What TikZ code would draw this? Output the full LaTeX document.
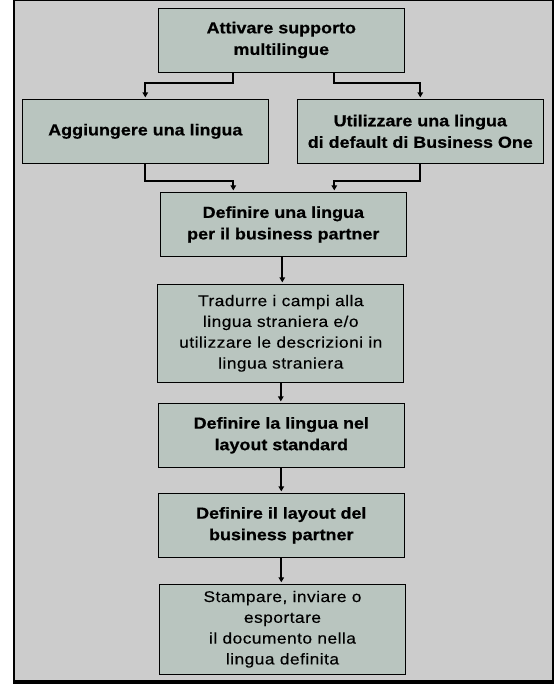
\documentclass[tikz,border=0pt]{standalone}
\usepackage{fontspec}
\usetikzlibrary{arrows.meta,calc}
\newfontfamily\headf[FakeStretch=1.12,FakeBold=0.6]{Liberation Sans Bold}
\newfontfamily\bodyf[FakeStretch=1.12,LetterSpace=3,FakeBold=0.3]{Liberation Sans}
\definecolor{bgray}{RGB}{204,204,204}
\definecolor{boxfill}{RGB}{185,197,191}
\begin{document}
\begin{tikzpicture}[x=1pt,y=-1pt,
  stepbox/.style={draw=black,line width=0.8pt,fill=boxfill,minimum width=246pt,inner sep=0pt,align=center},
  headtxt/.style={font=\headf\fontsize{16}{21.5}\selectfont},
  bodytxt/.style={font=\bodyf\fontsize{15.5}{20.8}\selectfont},
  conn/.style={line width=2pt,-{Triangle[length=5pt,width=5.5pt]},shorten >=1.5pt}]
\useasboundingbox (0,0) rectangle (554,691);
% frame
\fill[bgray] (14,0.5) rectangle (553,681);
\draw[line width=1.4pt] (14,0.7) rectangle (553,681);
\draw[line width=2.6pt] (14,0) -- (14,682.5) -- (553.5,682.5);
% boxes
\node[stepbox,headtxt,minimum height=64pt] (A) at (281.3,40) {Attivare supporto\\multilingue};
\node[stepbox,headtxt,minimum height=64pt] (B) at (145.3,131.3) {Aggiungere una lingua};
\node[stepbox,headtxt,minimum height=64pt] (C) at (420.3,131.3) {Utilizzare una lingua\\di default di Business One};
\node[stepbox,headtxt,minimum height=64.5pt] (D) at (283.3,224.5) {Definire una lingua\\per il business partner};
\node[stepbox,bodytxt,minimum height=98pt] (E) at (280.8,333.3) {Tradurre i campi alla\\lingua straniera e/o\\utilizzare le descrizioni in\\lingua straniera};
\node[stepbox,headtxt,minimum height=64pt] (F) at (281.3,435.3) {Definire la lingua nel\\layout standard};
\node[stepbox,headtxt,minimum height=64pt] (G) at (281.3,525.3) {Definire il layout del\\business partner};
\node[stepbox,bodytxt,minimum height=90pt] (H) at (282.5,629.2) {Stampare, inviare o\\esportare\\il documento nella\\lingua definita};
% connectors
\draw[conn] ([xshift=-48pt]A.south) -- ++(0,11) -| (B.north);
\draw[conn] ([xshift=53pt]A.south) -- ++(0,11) -| (C.north);
\draw[conn] (B.south) -- ++(0,17) -| ([xshift=-50pt]D.north);
\draw[conn] (C.south) -- ++(0,17) -| ([xshift=51pt]D.north);
\draw[conn] ([xshift=-1pt]D.south) -- ([xshift=-1pt]D.south |- E.north);
\draw[conn] (E.south) -- (E.south |- F.north);
\draw[conn] (F.south) -- (F.south |- G.north);
\draw[conn] (G.south) -- (G.south |- H.north);
\end{tikzpicture}
\end{document}
